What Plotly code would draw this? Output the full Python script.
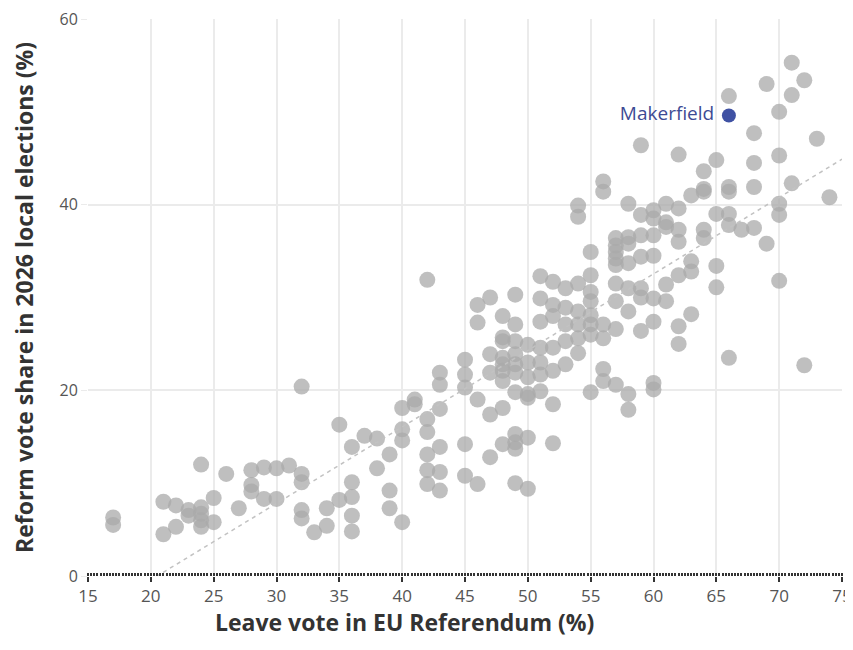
"""Scatter of Leave vote vs Reform vote share in the 2026 local elections."""

from __future__ import annotations

from typing import Final

import plotly.graph_objects as go

# Leave vote in the EU referendum (%) for each local authority
LEAVE_PCT: Final[list[float]] = [
    17, 17,
    21, 21, 22, 22, 23, 23,
    24, 24, 24, 24, 24,
    25, 25, 26, 27, 28, 28, 28, 29, 29, 30, 30, 31,
    32, 32, 32, 32, 32, 33, 34, 34, 35, 35,
    36, 36, 36, 36, 36, 37, 38, 38, 39, 39, 39,
    40, 40, 40, 40, 41, 41,
    42, 42, 42, 42, 42, 42,
    43, 43, 43, 43, 43, 43,
    45, 45, 45, 45, 45,
    46, 46, 46, 46,
    47, 47, 47, 47, 47,
    48, 48, 48, 48, 48, 48, 48, 48, 48,
    49, 49, 49, 49, 49, 49, 49, 49, 49, 49, 49,
    50, 50, 50, 50, 50, 50, 50,
    51, 51, 51, 51, 51, 51, 51,
    52, 52, 52, 52, 52, 52, 52,
    53, 53, 53, 53, 53,
    54, 54, 54, 54, 54, 54, 54,
    55, 55, 55, 55, 55, 55, 55, 55,
    56, 56, 56, 56, 56, 56,
    57, 57, 57, 57, 57, 57, 57, 57, 57,
    58, 58, 58, 58, 58, 58, 58, 58,
    59, 59, 59, 59, 59, 59, 59,
    60, 60, 60, 60, 60, 60, 60, 60,
    61, 61, 61, 61, 61,
    62, 62, 62, 62, 62, 62, 62,
    63, 63, 63, 63,
    64, 64, 64, 64, 64,
    65, 65, 65, 65,
    66, 66, 66, 66, 66, 66,
    67,
    68, 68, 68, 68,
    69, 69,
    70, 70, 70, 70, 70,
    71, 71, 71,
    72, 72,
    73,
    74,
]

# Reform vote share in the 2026 local elections (%), same order as LEAVE_PCT
REFORM_PCT: Final[list[float]] = [
    6.3, 5.5,
    8.0, 4.5, 7.6, 5.3, 7.1, 6.5,
    12.0, 7.4, 6.7, 6.0, 5.3,
    8.4, 5.8, 11.0, 7.3, 11.4, 9.8, 9.1, 11.7, 8.3, 11.6, 8.3, 11.9,
    20.4, 11.0, 10.1, 7.1, 6.2, 4.7, 7.3, 5.4, 16.3, 8.2,
    13.9, 10.1, 8.5, 6.5, 4.8, 15.1, 14.8, 11.6, 13.1, 9.2, 7.3,
    18.1, 15.8, 14.6, 5.8, 19.0, 18.5,
    31.9, 16.9, 15.5, 13.1, 11.4, 9.9,
    21.9, 20.6, 18.0, 13.9, 11.2, 9.2,
    23.3, 21.7, 20.3, 14.2, 10.8,
    29.2, 27.3, 19.0, 9.9,
    30.0, 23.9, 21.9, 17.4, 12.8,
    28.0, 25.7, 25.3, 23.5, 22.8, 22.1, 21.0, 18.1, 14.2,
    30.3, 27.1, 25.3, 23.9, 22.8, 21.9, 19.8, 15.3, 14.4, 13.7, 10.0,
    24.9, 23.0, 21.4, 19.6, 19.2, 14.9, 9.4,
    32.3, 29.9, 27.4, 24.6, 23.0, 21.7, 19.9,
    31.7, 29.2, 28.0, 24.6, 22.1, 18.5, 14.3,
    31.0, 28.9, 27.1, 25.3, 22.8,
    39.9, 38.7, 31.5, 28.5, 27.1, 25.6, 24.0,
    34.9, 32.4, 30.6, 29.6, 28.1, 27.1, 26.0, 19.8,
    42.5, 41.4, 27.1, 25.6, 22.3, 21.0,
    36.4, 35.6, 34.9, 34.2, 33.5, 31.5, 29.6, 26.6, 20.6,
    40.1, 36.5, 35.8, 33.7, 31.0, 28.5, 19.6, 17.9,
    46.4, 38.9, 36.7, 34.4, 31.0, 30.0, 26.4,
    39.4, 38.5, 36.7, 34.5, 29.9, 27.4, 20.8, 20.1,
    40.1, 38.1, 37.6, 31.4, 29.6,
    45.4, 39.6, 37.3, 36.0, 32.4, 26.9, 25.0,
    41.0, 33.9, 32.8, 28.2,
    43.6, 41.7, 41.4, 37.3, 36.4,
    44.8, 39.0, 33.4, 31.1,
    51.7, 41.9, 41.4, 39.0, 37.8, 23.5,
    37.3,
    47.7, 44.5, 41.9, 37.5,
    53.0, 35.8,
    50.0, 45.3, 40.1, 38.9, 31.8,
    55.3, 51.8, 42.3,
    53.4, 22.7,
    47.1,
    40.8,
]

HIGHLIGHT_NAME: Final[str] = "Makerfield"
HIGHLIGHT_LEAVE: Final[float] = 66
HIGHLIGHT_REFORM: Final[float] = 49.6

# Linear fit
TREND_X: Final[list[float]] = [15, 75]
TREND_SLOPE: Final[float] = 0.824
TREND_INTERCEPT: Final[float] = -16.9

X_TICKS: Final[list[int]] = [15, 20, 25, 30, 35, 40, 45, 50, 55, 60, 65, 70, 75]
Y_TICKS: Final[list[int]] = [0, 20, 40, 60]

X_TITLE: Final[str] = "Leave vote in EU Referendum (%)"
Y_TITLE: Final[str] = "Reform vote share in 2026 local elections (%)"

_FONT: Final[str] = "'Open Sans', Lato, sans-serif"
_GRID: Final[str] = "#ebebeb"


def create_scatter() -> go.Figure:
    """Build the Leave vs Reform scatter with a trend line and one labelled point."""
    figure = go.Figure()

    figure.add_trace(
        go.Scatter(
            x=LEAVE_PCT,
            y=REFORM_PCT,
            mode="markers",
            marker={"size": 16, "color": "rgb(170,170,170)", "opacity": 0.75, "line": {"width": 0}},
            hovertemplate="Leave: %{x}%<br>Reform: %{y}%<extra></extra>",
            showlegend=False,
        )
    )

    trend_y = [TREND_SLOPE * x + TREND_INTERCEPT for x in TREND_X]
    figure.add_trace(
        go.Scatter(
            x=TREND_X,
            y=trend_y,
            mode="lines",
            line={"color": "#c2c2c2", "width": 1.5, "dash": "4px,4px"},
            hoverinfo="skip",
            showlegend=False,
        )
    )

    figure.add_trace(
        go.Scatter(
            x=[HIGHLIGHT_LEAVE],
            y=[HIGHLIGHT_REFORM],
            mode="markers+text",
            text=[HIGHLIGHT_NAME + " "],
            textposition="middle left",
            textfont={"family": _FONT, "size": 19, "color": "#3d4b94"},
            marker={"size": 14, "color": "#3f51a3"},
            showlegend=False,
        )
    )

    figure.update_xaxes(
        range=[15, 75],
        tickvals=X_TICKS,
        automargin=False,
        ticklabeloverflow="allow",
        showgrid=True,
        gridcolor=_GRID,
        gridwidth=1.5,
        zeroline=False,
        showline=False,
        ticks="outside",
        ticklen=5,
        tickwidth=2,
        tickcolor="#333333",
        minor={"dtick": 0.25, "ticks": "inside", "ticklen": 3, "tickwidth": 2,
               "tickcolor": "#333333", "showgrid": False},
        tickfont={"family": _FONT, "size": 17, "color": "#555555"},
    )
    figure.update_yaxes(
        range=[0, 60],
        tickvals=Y_TICKS,
        automargin=False,
        ticklabeloverflow="allow",
        showgrid=True,
        gridcolor=_GRID,
        gridwidth=1.5,
        zeroline=False,
        showline=False,
        ticks="outside",
        ticklen=6,
        tickcolor=_GRID,
        tickfont={"family": _FONT, "size": 16, "color": "#555555"},
        title={"text": f"<b>{Y_TITLE}</b>",
               "font": {"family": _FONT, "size": 23, "color": "#333333"},
               "standoff": 22},
    )
    # x title sits left of the plot centre in the reference, so place it as an annotation
    figure.add_annotation(
        text=f"<b>{X_TITLE}</b>",
        xref="paper",
        yref="paper",
        x=0.42,
        y=0,
        yshift=-46,
        xanchor="center",
        yanchor="middle",
        showarrow=False,
        font={"family": _FONT, "size": 23, "color": "#333333"},
    )
    # The page adds an 8px body margin, so the figure is kept inside the window
    figure.update_layout(
        width=845,
        height=634,
        margin={"l": 80, "r": 11, "t": 11, "b": 66},
        plot_bgcolor="white",
        paper_bgcolor="white",
    )
    return figure


if __name__ == "__main__":
    fig = create_scatter()
    fig.write_html("out.html")
